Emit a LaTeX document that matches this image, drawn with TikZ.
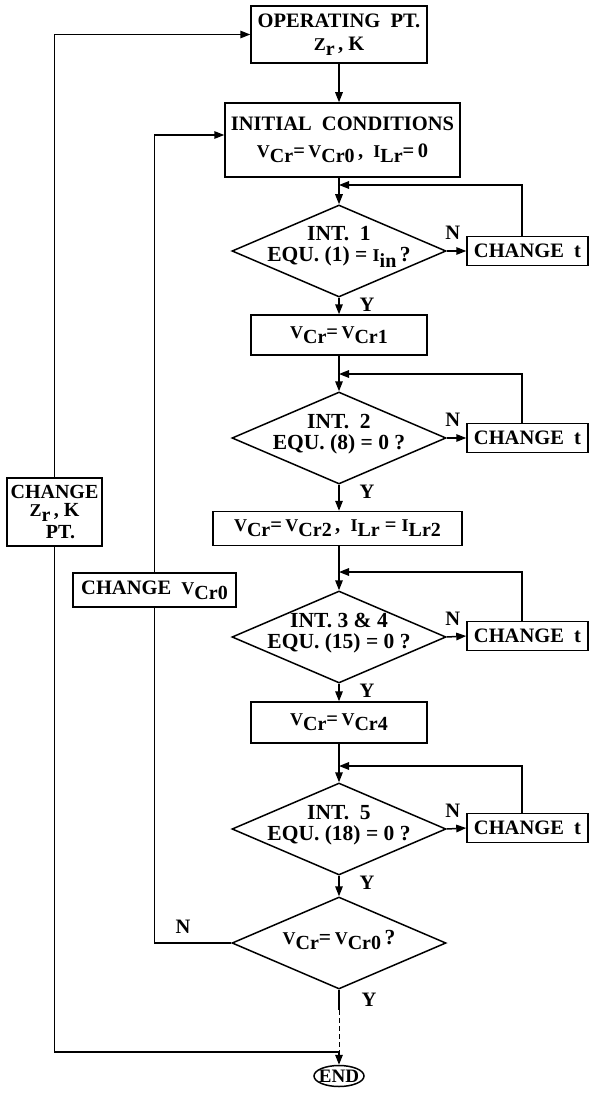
\documentclass[tikz,border=0pt]{standalone}
\usepackage{fontspec}
\setmainfont{Liberation Serif}
\usetikzlibrary{shapes.geometric,arrows.meta}
\newcommand{\ms}[2]{{\fontsize{18}{18}\selectfont #1}\raisebox{-0.55ex}{\fontsize{20}{20}\selectfont #2}}
\begin{document}
\begin{tikzpicture}[x=1pt,y=-1pt,line width=1.5pt,
  every node/.style={font=\fontsize{20.5}{22}\selectfont\bfseries},
  box/.style={draw,rectangle,inner sep=0pt,align=center},
  dia/.style={draw,diamond,inner sep=0pt,minimum width=214pt,minimum height=92pt},
  dtext/.style={align=center,inner sep=0pt,font=\fontsize{21.5}{21}\selectfont\bfseries},
  arr/.style={-{Triangle[length=10pt,width=7.5pt]}},
  lbl/.style={inner sep=0pt},
  dsh/.style={line width=1pt,dash pattern=on 5pt off 3pt}]
\useasboundingbox (0,0) rectangle (590,1094);

% main column
\node[box,minimum width=176pt,minimum height=57pt] (op) at (339,34.5)
  {OPERATING\ \ PT.\\[1pt]\ms{Z}{r}\,, K};
\node[box,minimum width=235pt,minimum height=74pt] (init) at (342.5,140)
  {INITIAL\ \ CONDITIONS\\[5pt]\ms{V}{Cr}=\,\ms{V}{Cr0}\,,\ \ \ms{I}{Lr}=\,0};

\coordinate (m1) at (339,185);
\node[dia] (d1) at (339,251) {};
\node[dtext] (t1) at ([yshift=4pt]d1.center) {INT.\ \ 1\\EQU. (1) = \ms{I}{in}\,?};
\node[box,minimum width=121pt,minimum height=29pt] (ct1) at (527.5,251) {CHANGE\ \ t};
\node[box,minimum width=176pt,minimum height=40pt] (b1) at (339,335) {\ms{V}{Cr}=\,\ms{V}{Cr1}};

\coordinate (m2) at (339,374);
\node[dia] (d2) at (339,438) {};
\node[dtext] (t2) at ([yshift=4pt]d2.center) {INT.\ \ 2\\EQU. (8) = 0 ?};
\node[box,minimum width=121pt,minimum height=29pt] (ct2) at (527.5,438) {CHANGE\ \ t};
\node[box,minimum width=249pt,minimum height=34pt] (b2) at (337.5,528.5)
  {\ms{V}{Cr}=\,\ms{V}{Cr2}\,,\ \ \ms{I}{Lr} = \ms{I}{Lr2}};

\coordinate (m3) at (339,572);
\node[dia] (d3) at (339,637) {};
\node[dtext] (t3) at ([yshift=4pt]d3.center) {INT. 3 \& 4\\EQU. (15) = 0 ?};
\node[box,minimum width=121pt,minimum height=29pt] (ct3) at (527.5,636) {CHANGE\ \ t};
\node[box,minimum width=176pt,minimum height=41pt] (b3) at (339,722.5) {\ms{V}{Cr}=\,\ms{V}{Cr4}};

\coordinate (m4) at (339,766);
\node[dia] (d4) at (339,829) {};
\node[dtext] (t4) at ([yshift=4pt]d4.center) {INT.\ \ 5\\EQU. (18) = 0 ?};
\node[box,minimum width=121pt,minimum height=29pt] (ct4) at (527.5,828) {CHANGE\ \ t};

\node[dia] (d5) at (339,943) {};
\node[dtext] (t5) at ([yshift=3pt]d5.center) {\ms{V}{Cr}=\,\ms{V}{Cr0}\,?};

\coordinate (ds) at (339,1010);
\coordinate (jn) at (339,1052);
\node[draw,ellipse,minimum width=50pt,minimum height=21pt,inner sep=0pt] (end) at (339,1076) {};
\node[lbl,font=\fontsize{19}{19}\selectfont\bfseries] (endt) at (end) {END};

% left boxes
\node[box,minimum width=95pt,minimum height=68pt,font=\fontsize{20}{19}\selectfont\bfseries] (cz) at (54.5,512)
  {CHANGE\\[-1pt]\ms{Z}{r}\,, K\\[3pt]\hspace*{12pt}PT.};
\node[box,minimum width=163pt,minimum height=34pt] (cv) at (154.5,590)
  {CHANGE\ \ \ms{V}{Cr0}};

% labels
\node[lbl] (n1) at ([xshift=6pt,yshift=18pt]d1.east) {N};
\node[lbl] (y1) at ([xshift=28pt,yshift=-7pt]d1.south) {Y};
\node[lbl] (n2) at ([xshift=6pt,yshift=18pt]d2.east) {N};
\node[lbl] (y2) at ([xshift=28pt,yshift=-7pt]d2.south) {Y};
\node[lbl] (n3) at ([xshift=6pt,yshift=18pt]d3.east) {N};
\node[lbl] (y3) at ([xshift=28pt,yshift=-7pt]d3.south) {Y};
\node[lbl] (n4) at ([xshift=6pt,yshift=18pt]d4.east) {N};
\node[lbl] (y4) at ([xshift=28pt,yshift=-7pt]d4.south) {Y};
\node[lbl] (n5) at (183,927) {N};
\node[lbl] (y5) at ([xshift=30pt,yshift=-10pt]d5.south) {Y};

% connectors
\draw[arr] (op.south) -- (op.south |- init.north);
\draw[arr] (init.south -| m1) -- (d1.north);
\draw[arr] (d1.east) -- (ct1.west);
\draw[arr] ([xshift=-5.5pt]ct1.north) |- (m1);
\draw[arr] (d1.south) -- (b1.north);

\draw[arr] (b1.south) -- (d2.north);
\draw[arr] (d2.east) -- (ct2.west);
\draw[arr] ([xshift=-5.5pt]ct2.north) |- (m2);
\draw[arr] (d2.south) -- (d2.south |- b2.north);

\draw[arr] (b2.south -| m3) -- (d3.north);
\draw[arr] (d3.east) -- (ct3.west);
\draw[arr] ([xshift=-5.5pt]ct3.north) |- (m3);
\draw[arr] (d3.south) -- (b3.north);

\draw[arr] (b3.south) -- (d4.north);
\draw[arr] (d4.east) -- (ct4.west);
\draw[arr] ([xshift=-5.5pt]ct4.north) |- (m4);
\draw[arr] (d4.south) -- (d5.north);

\draw (d5.west) -| (cv.south);
\draw[arr] (cv.north) |- ([yshift=5pt]init.west);

\draw (d5.south) -- (ds);
\draw[dsh] (ds) -- (jn);
\draw[arr] (jn) -- (end.north);
\draw (jn) -| (cz.south);
\draw[arr] (cz.north) |- (op.west);
\end{tikzpicture}
\end{document}
